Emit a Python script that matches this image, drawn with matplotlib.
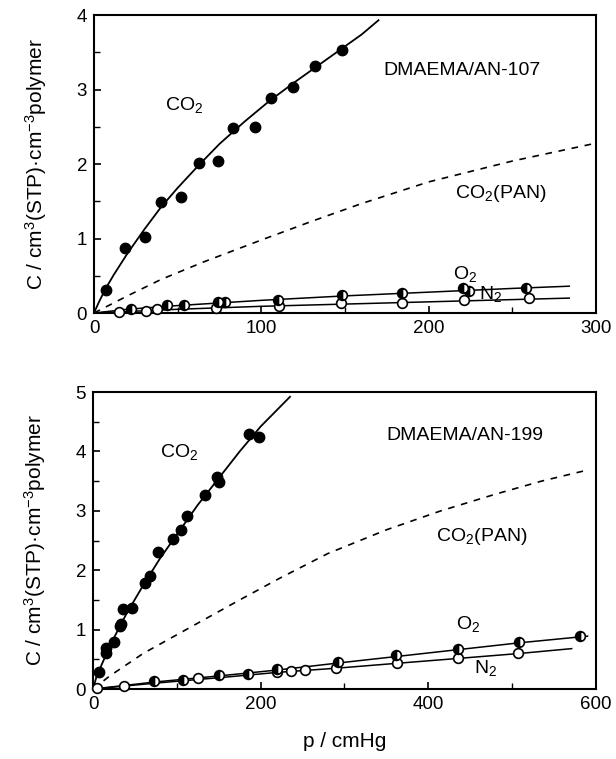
import numpy as np
import matplotlib
matplotlib.use('Agg')
import matplotlib.pyplot as plt
from matplotlib.ticker import MultipleLocator

plt.rcParams['font.family'] = ['Liberation Sans', 'DejaVu Sans']
plt.rcParams['mathtext.default'] = 'regular'

# Top panel: DMAEMA/AN-107
top_co2_p = [7, 18.5, 30.5, 40, 52, 62.6, 74, 83.3, 96, 106, 119, 132, 148]
top_co2_c = [0.31, 0.87, 1.02, 1.49, 1.56, 2.02, 2.04, 2.49, 2.50, 2.89, 3.04, 3.32, 3.53]
top_o2_p = [22, 43.4, 54, 74, 78, 110, 148, 184, 220.6, 224, 258]
top_o2_c = [0.06, 0.11, 0.11, 0.15, 0.15, 0.18, 0.24, 0.27, 0.33, 0.30, 0.34]
top_n2_p = [15, 31, 37.5, 72.7, 110.6, 147.4, 184, 221, 260]
top_n2_c = [0.02, 0.03, 0.05, 0.07, 0.10, 0.13, 0.14, 0.17, 0.20]

# fitted curves
top_co2_fit_p = [0, 3, 7, 12, 20, 30, 40, 50, 62, 75, 90, 105, 120, 135, 150, 160, 170]
top_co2_fit_c = [0, 0.15, 0.33, 0.52, 0.80, 1.12, 1.42, 1.68, 1.97, 2.27, 2.57, 2.85, 3.10, 3.34, 3.58, 3.74, 3.93]
top_pan_p = [0, 20, 40, 66, 100, 130, 160, 200, 250, 300]
top_pan_c = [0, 0.23, 0.45, 0.69, 0.98, 1.23, 1.47, 1.76, 2.04, 2.28]
top_o2_fit_p = [0, 20, 50, 100, 150, 200, 250, 284]
top_o2_fit_c = [0, 0.05, 0.10, 0.17, 0.23, 0.28, 0.33, 0.36]
top_n2_fit_p = [0, 50, 100, 150, 200, 250, 284]
top_n2_fit_c = [0, 0.05, 0.09, 0.12, 0.15, 0.18, 0.20]

# Bottom panel: DMAEMA/AN-199
bot_co2_p = [7.6, 15.5, 16, 24.9, 31.7, 33, 35.6, 46.6, 61.8, 67.8, 77.7, 95.8, 105, 112, 134, 148, 150, 186, 198]
bot_co2_c = [0.29, 0.60, 0.69, 0.80, 1.06, 1.10, 1.34, 1.37, 1.79, 1.90, 2.30, 2.52, 2.68, 2.92, 3.26, 3.57, 3.48, 4.29, 4.24]
bot_o2_p = [73, 107, 150, 185, 219, 292, 362, 435, 508, 581]
bot_o2_c = [0.13, 0.16, 0.23, 0.25, 0.33, 0.46, 0.57, 0.68, 0.80, 0.89]
bot_n2_p = [5, 37, 125, 219, 236, 253, 290, 363, 435, 507]
bot_n2_c = [0.02, 0.05, 0.18, 0.28, 0.30, 0.32, 0.35, 0.44, 0.53, 0.60]

bot_co2_fit_p = [0, 4, 10, 20, 30, 40, 60, 80, 100, 125, 150, 175, 200, 235]
bot_co2_fit_c = [0, 0.20, 0.40, 0.72, 1.00, 1.27, 1.75, 2.20, 2.60, 3.10, 3.55, 4.00, 4.42, 4.92]
bot_pan_p = [0, 20, 60, 120, 175, 222, 280, 350, 415, 480, 535, 591]
bot_pan_c = [0, 0.22, 0.60, 1.07, 1.50, 1.86, 2.28, 2.68, 3.00, 3.28, 3.50, 3.69]
bot_o2_fit_p = [0, 75, 150, 220, 300, 370, 440, 510, 590]
bot_o2_fit_c = [0, 0.12, 0.22, 0.32, 0.45, 0.56, 0.67, 0.78, 0.89]
bot_n2_fit_p = [0, 75, 150, 220, 290, 360, 440, 510, 571]
bot_n2_fit_c = [0, 0.10, 0.19, 0.28, 0.35, 0.43, 0.52, 0.60, 0.68]

ylabel = 'C / cm$^3$(STP)·cm$^{-3}$polymer'
FS = 14


def draw_panel(ax, d, xmax, ymax, xmajor, xminor, title, labels):
    lw = 1.3
    ax.plot(d['co2_fit'][0], d['co2_fit'][1], color='black', lw=lw)
    ax.plot(d['pan'][0], d['pan'][1], color='black', lw=1.2, ls=(0, (4, 4)))
    ax.plot(d['o2_fit'][0], d['o2_fit'][1], color='black', lw=1.1)
    ax.plot(d['n2_fit'][0], d['n2_fit'][1], color='black', lw=1.1)

    ax.plot(d['co2'][0], d['co2'][1], 'o', color='black', ms=7.5, clip_on=False, zorder=5)
    ax.plot(d['n2'][0], d['n2'][1], 'o', mfc='white', mec='black', mew=1.2, ms=7, clip_on=False, zorder=5)
    ax.plot(d['o2'][0], d['o2'][1], 'o', fillstyle='left', mfc='black', mfcalt='white',
            mec='black', mew=1.2, ms=7, clip_on=False, zorder=6)

    ax.set_xlim(0, xmax)
    ax.set_ylim(0, ymax)
    ax.xaxis.set_major_locator(MultipleLocator(xmajor))
    ax.xaxis.set_minor_locator(MultipleLocator(xminor))
    ax.yaxis.set_major_locator(MultipleLocator(1))
    ax.yaxis.set_minor_locator(MultipleLocator(0.5))
    ax.tick_params(which='both', direction='in', labelsize=13.5, top=False, right=False)
    ax.tick_params(which='major', length=5, width=1.2, pad=5)
    ax.tick_params(which='minor', length=4, width=1.0)
    for s in ax.spines.values():
        s.set_linewidth(1.5)
    ax.set_ylabel(ylabel, fontsize=15, labelpad=20)

    ax.text(labels['title'][0], labels['title'][1], title, fontsize=FS, ha='center', va='center')
    for key in ('co2', 'pan', 'o2', 'n2'):
        txt = {'co2': 'CO$_2$', 'pan': 'CO$_2$(PAN)', 'o2': 'O$_2$', 'n2': 'N$_2$'}[key]
        ax.text(labels[key][0], labels[key][1], txt, fontsize=FS, ha='center', va='center')


fig = plt.figure(figsize=(6.16, 7.59), dpi=100)
ax1 = fig.add_axes([0.1526, 0.5876, 0.815, 0.3926])
ax2 = fig.add_axes([0.1510, 0.0922, 0.8165, 0.3913])

draw_panel(ax1,
           {'co2': (top_co2_p, top_co2_c), 'o2': (top_o2_p, top_o2_c), 'n2': (top_n2_p, top_n2_c),
            'co2_fit': (top_co2_fit_p, top_co2_fit_c), 'pan': (top_pan_p, top_pan_c),
            'o2_fit': (top_o2_fit_p, top_o2_fit_c), 'n2_fit': (top_n2_fit_p, top_n2_fit_c)},
           300, 4, 100, 50, 'DMAEMA/AN-107',
           {'title': (220, 3.26), 'co2': (54, 2.79), 'pan': (243, 1.6), 'o2': (222, 0.52), 'n2': (237, 0.25)})

draw_panel(ax2,
           {'co2': (bot_co2_p, bot_co2_c), 'o2': (bot_o2_p, bot_o2_c), 'n2': (bot_n2_p, bot_n2_c),
            'co2_fit': (bot_co2_fit_p, bot_co2_fit_c), 'pan': (bot_pan_p, bot_pan_c),
            'o2_fit': (bot_o2_fit_p, bot_o2_fit_c), 'n2_fit': (bot_n2_fit_p, bot_n2_fit_c)},
           600, 5, 200, 100, 'DMAEMA/AN-199',
           {'title': (444, 4.27), 'co2': (103, 3.99), 'pan': (464, 2.56), 'o2': (448, 1.1), 'n2': (468, 0.36)})
ax2.set_xlabel('p / cmHg', fontsize=15, labelpad=14)

fig.savefig('out.png', dpi=100)
